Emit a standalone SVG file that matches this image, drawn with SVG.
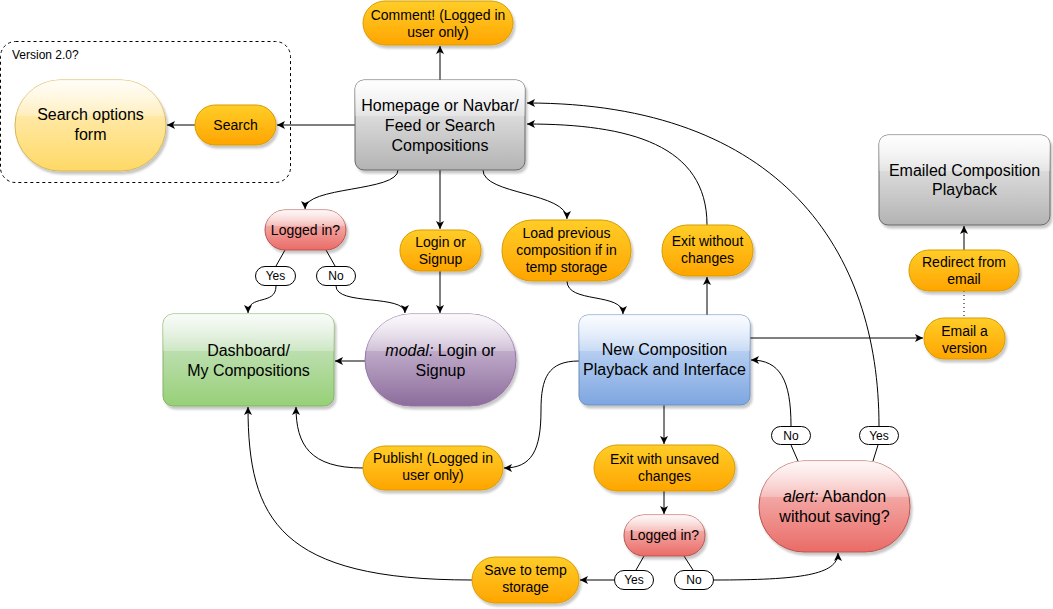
<svg xmlns="http://www.w3.org/2000/svg" width="1053" height="609" viewBox="0 0 1053 609">
<defs>
<style>
text{font-family:"Liberation Sans",Arial,Helvetica,sans-serif;fill:#000;text-anchor:middle}
.f12{font-size:12px}.f14{font-size:14px}.f16{font-size:16px}
.edge{fill:none;stroke:#000;stroke-width:1}
.arr{marker-end:url(#arrow)}
.lbl{fill:#fff;stroke:#000;stroke-width:1}
.sh{filter:url(#shadow)}
.orange{fill:url(#gOrange);stroke:#d79b00}
.gray{fill:url(#gGray);stroke:#666}
.green{fill:url(#gGreen);stroke:#82b366}
.purple{fill:url(#gPurple);stroke:#9673a6}
.blue{fill:url(#gBlue);stroke:#6c8ebf}
.red{fill:url(#gRed);stroke:#b85450}
.yellow{fill:url(#gYellow);stroke:#d6b656}
.glass{fill:url(#gGlass);stroke:none}
</style>
<filter id="shadow" x="-10%" y="-10%" width="130%" height="140%">
<feDropShadow dx="2" dy="3" stdDeviation="1" flood-color="#000" flood-opacity="0.22"/>
</filter>
<marker id="arrow" markerWidth="10" markerHeight="10" refX="8" refY="4" orient="auto" markerUnits="userSpaceOnUse">
<path d="M0,0 L8,4 L0,8 L2,4 Z" fill="#000"/>
</marker>
<linearGradient id="gOrange" x1="0" y1="0" x2="0" y2="1"><stop offset="0" stop-color="#ffcd28"/><stop offset="1" stop-color="#ffa500"/></linearGradient>
<linearGradient id="gGray" x1="0" y1="0" x2="0" y2="1"><stop offset="0" stop-color="#f5f5f5"/><stop offset="1" stop-color="#b3b3b3"/></linearGradient>
<linearGradient id="gGreen" x1="0" y1="0" x2="0" y2="1"><stop offset="0" stop-color="#d5e8d4"/><stop offset="1" stop-color="#97d077"/></linearGradient>
<linearGradient id="gPurple" x1="0" y1="0" x2="0" y2="1"><stop offset="0" stop-color="#e1d5e7"/><stop offset="1" stop-color="#8c6c9c"/></linearGradient>
<linearGradient id="gBlue" x1="0" y1="0" x2="0" y2="1"><stop offset="0" stop-color="#dae8fc"/><stop offset="1" stop-color="#7ea6e0"/></linearGradient>
<linearGradient id="gRed" x1="0" y1="0" x2="0" y2="1"><stop offset="0" stop-color="#f8cecc"/><stop offset="1" stop-color="#ea6b66"/></linearGradient>
<linearGradient id="gYellow" x1="0" y1="0" x2="0" y2="1"><stop offset="0" stop-color="#fff2cc"/><stop offset="1" stop-color="#ffd966"/></linearGradient>
<linearGradient id="gGlass" x1="0" y1="0" x2="0" y2="1"><stop offset="0" stop-color="#fff" stop-opacity="0.85"/><stop offset="1" stop-color="#fff" stop-opacity="0.25"/></linearGradient>
<clipPath id="cHome"><rect x="355" y="80" width="170" height="90" rx="9"/></clipPath>
<clipPath id="cForm"><rect x="15" y="80" width="151" height="91" rx="45"/></clipPath>
<clipPath id="cLog1"><rect x="265" y="210" width="81" height="40" rx="20"/></clipPath>
<clipPath id="cDash"><rect x="163" y="314" width="171" height="92" rx="10"/></clipPath>
<clipPath id="cModal"><rect x="365" y="314" width="151" height="92" rx="46"/></clipPath>
<clipPath id="cNew"><rect x="579" y="315" width="171" height="90" rx="9"/></clipPath>
<clipPath id="cMail"><rect x="879" y="135" width="171" height="90" rx="9"/></clipPath>
<clipPath id="cLog2"><rect x="624" y="515" width="81" height="41" rx="20"/></clipPath>
<clipPath id="cAlert"><rect x="759" y="461" width="151" height="91" rx="45"/></clipPath>
</defs>
<rect x="0" y="0" width="1053" height="609" fill="#fff"/>

<g id="group-version2">
<rect x="0.5" y="41.5" width="290" height="141" rx="15" fill="none" stroke="#000" stroke-dasharray="3,3"/>
<text class="f12" x="12" y="59" style="text-anchor:start">Version 2.0?</text>
</g>

<g id="connectors">
<path class="edge arr" d="M440,80 L440,46"/>
<path class="edge arr" d="M355,125 L277,125"/>
<path class="edge arr" d="M195,125 L167,125"/>
<path class="edge arr" d="M398,170 C398,192 305,186 305,209"/>
<path class="edge arr" d="M440,170 L440,229"/>
<path class="edge arr" d="M483,170 C483,195 567,192 567,219"/>
<path class="edge" d="M285,250 L276,266"/>
<path class="edge" d="M326,250 L335,266"/>
<path class="edge arr" d="M276,286 C276,306 248,294 248,313"/>
<path class="edge arr" d="M336,286 C336,306 405,294 405,313"/>
<path class="edge arr" d="M440,271 L440,313"/>
<path class="edge arr" d="M365,361 L335,361"/>
<path class="edge arr" d="M567,281 C567,304 623,292 623,314"/>
<path class="edge arr" d="M707,315 L707,277"/>
<path class="edge arr" d="M707,225 C707,145 630,124 527,124"/>
<path class="edge arr" d="M879,426 C879,250 780,103 527,103"/>
<path class="edge arr" d="M750,338 L923,338"/>
<path class="edge" d="M964,291 L964,318" stroke-dasharray="1,3"/>
<path class="edge arr" d="M964,250 L964,226"/>
<path class="edge arr" d="M791,426 C791,380 780,360 751,360"/>
<path class="edge arr" d="M579,361 C548,361 541,378 541,410 C541,450 532,468 504,468"/>
<path class="edge arr" d="M363,468 C310,468 296,445 296,407"/>
<path class="edge arr" d="M472,580 C280,580 248,520 248,407"/>
<path class="edge arr" d="M664,405 L664,444"/>
<path class="edge arr" d="M664,491 L664,514"/>
<path class="edge" d="M798,461 L791,445"/>
<path class="edge" d="M873,461 L878,445"/>
<path class="edge" d="M644,556 L636,570"/>
<path class="edge" d="M684,556 L693,570"/>
<path class="edge arr" d="M614,580 L580,580"/>
<path class="edge arr" d="M714,580 C800,580 838,575 838,553"/>
</g>

<g id="n-comment">
<rect class="orange sh" x="363" y="1" width="150" height="44" rx="22"/>
<text class="f14" x="438" y="19.5">Comment! (Logged in</text>
<text class="f14" x="438" y="36.5">user only)</text>
</g>

<g id="n-home">
<rect class="gray sh" x="355" y="80" width="170" height="90" rx="9"/>
<rect class="glass" x="355" y="80" width="170" height="36" clip-path="url(#cHome)"/>
<text class="f16" x="440" y="111">Homepage or Navbar/</text>
<text class="f16" x="440" y="131">Feed or Search</text>
<text class="f16" x="440" y="151">Compositions</text>
</g>

<g id="n-search">
<rect class="orange sh" x="195" y="105" width="81" height="40" rx="20"/>
<text class="f14" x="235.5" y="130">Search</text>
</g>

<g id="n-searchform">
<rect class="yellow sh" x="15" y="80" width="151" height="91" rx="45"/>
<rect class="glass" x="15" y="80" width="151" height="36" clip-path="url(#cForm)"/>
<text class="f16" x="90.5" y="120">Search options</text>
<text class="f16" x="90.5" y="140">form</text>
</g>

<g id="n-logged1">
<rect class="red sh" x="265" y="210" width="81" height="40" rx="20"/>
<rect class="glass" x="265" y="210" width="81" height="16" clip-path="url(#cLog1)"/>
<text class="f14" x="305.5" y="235">Logged in?</text>
</g>

<g id="n-login">
<rect class="orange sh" x="400" y="230" width="81" height="41" rx="20"/>
<text class="f14" x="440.5" y="247">Login or</text>
<text class="f14" x="440.5" y="264">Signup</text>
</g>

<g id="n-load">
<rect class="orange sh" x="502" y="220" width="129" height="61" rx="30"/>
<text class="f14" x="566.5" y="238">Load previous</text>
<text class="f14" x="566.5" y="255">composition if in</text>
<text class="f14" x="566.5" y="272">temp storage</text>
</g>

<g id="n-exitwithout">
<rect class="orange sh" x="662" y="225" width="91" height="51" rx="25"/>
<text class="f14" x="707.5" y="246">Exit without</text>
<text class="f14" x="707.5" y="263">changes</text>
</g>

<g id="n-yes1">
<rect class="lbl" x="255.5" y="266.5" width="40" height="19" rx="9.5"/>
<text class="f12" x="275.5" y="280">Yes</text>
</g>

<g id="n-no1">
<rect class="lbl" x="316.5" y="266.5" width="39" height="19" rx="9.5"/>
<text class="f12" x="336" y="280">No</text>
</g>

<g id="n-dashboard">
<rect class="green sh" x="163" y="314" width="171" height="92" rx="10"/>
<rect class="glass" x="163" y="314" width="171" height="37" clip-path="url(#cDash)"/>
<text class="f16" x="248.5" y="356">Dashboard/</text>
<text class="f16" x="248.5" y="376">My Compositions</text>
</g>

<g id="n-modal">
<rect class="purple sh" x="365" y="314" width="151" height="92" rx="46"/>
<rect class="glass" x="365" y="314" width="151" height="37" clip-path="url(#cModal)"/>
<text class="f16" x="440.5" y="356"><tspan font-style="italic">modal:</tspan> Login or</text>
<text class="f16" x="440.5" y="376">Signup</text>
</g>

<g id="n-newcomp">
<rect class="blue sh" x="579" y="315" width="171" height="90" rx="9"/>
<rect class="glass" x="579" y="315" width="171" height="36" clip-path="url(#cNew)"/>
<text class="f16" x="664.5" y="355">New Composition</text>
<text class="f16" x="664.5" y="375">Playback and Interface</text>
</g>

<g id="n-emailed">
<rect class="gray sh" x="879" y="135" width="171" height="90" rx="9"/>
<rect class="glass" x="879" y="135" width="171" height="36" clip-path="url(#cMail)"/>
<text class="f16" x="964.5" y="176">Emailed Composition</text>
<text class="f16" x="964.5" y="195">Playback</text>
</g>

<g id="n-redirect">
<rect class="orange sh" x="909" y="250" width="110" height="41" rx="20"/>
<text class="f14" x="964" y="267">Redirect from</text>
<text class="f14" x="964" y="284">email</text>
</g>

<g id="n-email">
<rect class="orange sh" x="924" y="318" width="81" height="41" rx="20"/>
<text class="f14" x="964.5" y="336">Email a</text>
<text class="f14" x="964.5" y="353">version</text>
</g>

<g id="n-publish">
<rect class="orange sh" x="363" y="446" width="140" height="44" rx="22"/>
<text class="f14" x="433" y="463">Publish! (Logged in</text>
<text class="f14" x="433" y="480">user only)</text>
</g>

<g id="n-exitwith">
<rect class="orange sh" x="594" y="445" width="141" height="46" rx="23"/>
<text class="f14" x="664.5" y="464">Exit with unsaved</text>
<text class="f14" x="664.5" y="481">changes</text>
</g>

<g id="n-logged2">
<rect class="red sh" x="624" y="515" width="81" height="41" rx="20"/>
<rect class="glass" x="624" y="515" width="81" height="16" clip-path="url(#cLog2)"/>
<text class="f14" x="664.5" y="540">Logged in?</text>
</g>

<g id="n-yes2">
<rect class="lbl" x="614.5" y="570.5" width="39" height="19" rx="9.5"/>
<text class="f12" x="634" y="584">Yes</text>
</g>

<g id="n-no2">
<rect class="lbl" x="674.5" y="570.5" width="39" height="19" rx="9.5"/>
<text class="f12" x="694" y="584">No</text>
</g>

<g id="n-save">
<rect class="orange sh" x="472" y="557" width="107" height="46" rx="23"/>
<text class="f14" x="525.5" y="575">Save to temp</text>
<text class="f14" x="525.5" y="592">storage</text>
</g>

<g id="n-alert">
<rect class="red sh" x="759" y="461" width="151" height="91" rx="45"/>
<rect class="glass" x="759" y="461" width="151" height="36" clip-path="url(#cAlert)"/>
<text class="f16" x="834.5" y="502"><tspan font-style="italic">alert:</tspan> Abandon</text>
<text class="f16" x="834.5" y="522">without saving?</text>
</g>

<g id="n-alertno">
<rect class="lbl" x="771.5" y="426.5" width="39" height="18" rx="9"/>
<text class="f12" x="791" y="440">No</text>
</g>

<g id="n-alertyes">
<rect class="lbl" x="859.5" y="426.5" width="39" height="18" rx="9"/>
<text class="f12" x="879" y="440">Yes</text>
</g>
</svg>
